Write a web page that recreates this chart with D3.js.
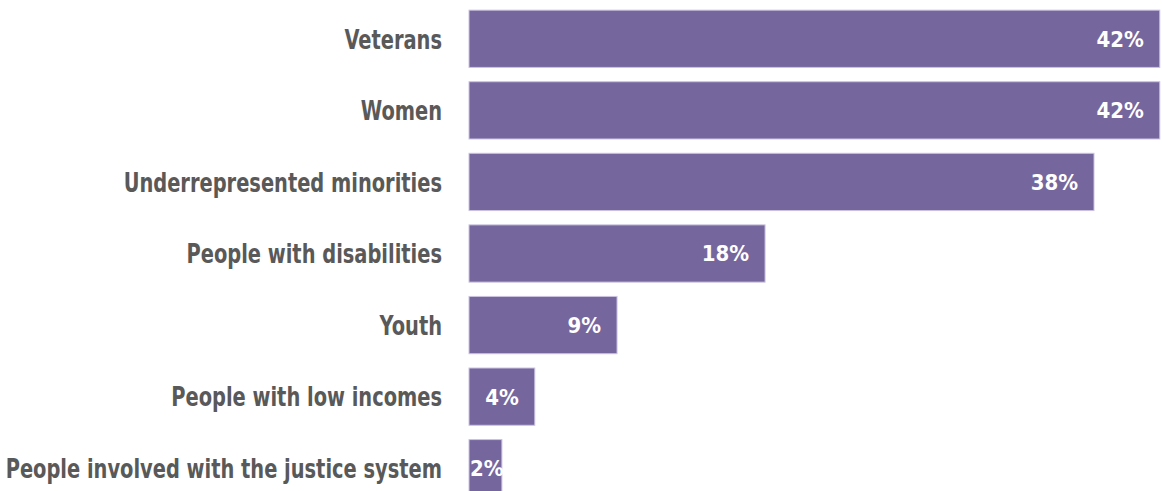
<!DOCTYPE html>
<html>
<head>
<meta charset="utf-8">
<script src="https://cdn.jsdelivr.net/npm/d3@7"></script>
<style>
  html, body { margin: 0; padding: 0; background: #ffffff; }
  svg { display: block; }
  .cat { font-family: "DejaVu Sans Condensed", "DejaVu Sans", sans-serif; font-weight: bold; fill: #595959; }
  .val { font-family: "DejaVu Sans Condensed", "DejaVu Sans", sans-serif; font-weight: bold; fill: #ffffff; }
</style>
</head>
<body>
<svg id="chart" width="1162" height="491"></svg>
<script>
// Share of respondents reporting each population group
const categories = [
  "Veterans",
  "Women",
  "Underrepresented minorities",
  "People with disabilities",
  "Youth",
  "People with low incomes",
  "People involved with the justice system"
];
const values = [42, 42, 38, 18, 9, 4, 2];
const valueLabels = ["42%", "42%", "38%", "18%", "9%", "4%", "2%"];

const svg = d3.select("#chart");

const x = d3.scaleLinear().domain([0, 38]).range([469, 1094]);
const y = d3.scaleBand().domain(categories).range([3, 504]).paddingInner(0.2).paddingOuter(0.1);

const rows = svg.selectAll("g.row")
  .data(categories.map((c, i) => ({ c, v: values[i], label: valueLabels[i] })))
  .join("g")
  .attr("class", "row");

rows.append("rect")
  .attr("x", x(0))
  .attr("y", d => y(d.c))
  .attr("width", d => x(d.v) - x(0))
  .attr("height", y.bandwidth())
  .attr("fill", "#75669e")
  .attr("stroke", "#cbc3df")
  .attr("stroke-width", 1);

// Condensed category labels, right-aligned against the bars
rows.append("text")
  .attr("class", "cat")
  .attr("transform", d => `translate(442,${y(d.c) + y.bandwidth() / 2}) scale(0.8,1)`)
  .attr("dy", "0.36em")
  .attr("text-anchor", "end")
  .attr("font-size", 27)
  .text(d => d.c);

// Value labels inside the bar end; kept inside the bar when it is narrow
rows.append("text")
  .attr("class", "val")
  .attr("y", d => y(d.c) + y.bandwidth() / 2)
  .attr("dy", "0.36em")
  .attr("text-anchor", "end")
  .attr("font-size", 22)
  .text(d => d.label)
  .attr("x", function (d) {
    const w = this.getComputedTextLength();
    return Math.max(x(d.v) - 16, x(0) + w + 1);
  });
</script>
</body>
</html>
